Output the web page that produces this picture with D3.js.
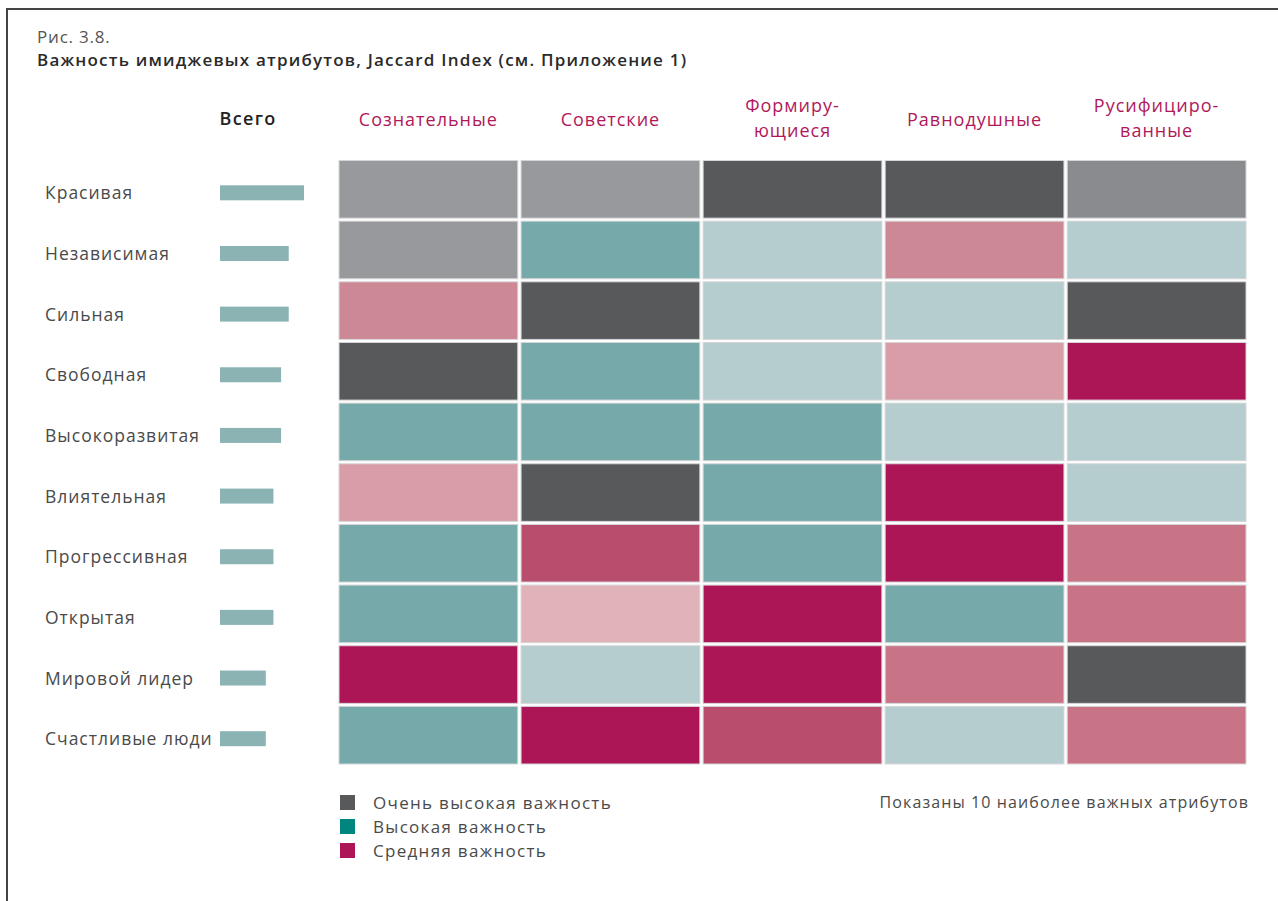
<!DOCTYPE html>
<html><head><meta charset="utf-8">
<script src="https://cdn.jsdelivr.net/npm/d3@7/dist/d3.min.js"></script>
<style>
html,body{margin:0;padding:0;background:#fff;}
text{font-family:"Open Sans",sans-serif;}
</style></head>
<body><svg id="chart" width="1278" height="901"></svg>
<script>
// ---- data ----
const attributes = ["Красивая","Независимая","Сильная","Свободная","Высокоразвитая","Влиятельная","Прогрессивная","Открытая","Мировой лидер","Счастливые люди"];
const totalValues = [0.55,0.45,0.45,0.40,0.40,0.35,0.35,0.35,0.30,0.30];
const segments = [["Сознательные"],["Советские"],["Формиру-","ющиеся"],["Равнодушные"],["Русифициро-","ванные"]];
// importance shade codes per segment column (VH = very high, H = high, M = medium; suffix = lighter shade)
const soznatelnye = ["VH2","VH2","M4","VH","H","M5","H","H","M","H"];
const sovetskie   = ["VH2","H","VH","H","H","VH","M2","M6","H2","M"];
const formiruyushchiesya = ["VH","H2","H2","H2","H","H","H","M","M","M2"];
const ravnodushnye = ["VH","M4","H2","M5","H2","M","M","H","M3","H2"];
const rusificirovannye = ["VH3","H2","VH","M","H2","H2","M3","M3","VH","M3"];
const matrixColumns = [soznatelnye,sovetskie,formiruyushchiesya,ravnodushnye,rusificirovannye];
const shadeCodes  = ["VH","VH2","VH3","H","H2","M","M2","M3","M4","M5","M6"];
const shadeColors = ["#58595b","#98999d","#8a8b8e","#76a9a9","#b5cdcf","#ad1656","#b84d6d","#c87386","#cd8895","#d99da8","#e0b2b9"];
const legendLabels = ["Очень высокая важность","Высокая важность","Средняя важность"];
const legendColors = ["#58595b","#00857f","#ad1656"];

const svg = d3.select("#chart");
const dark = "#4a4a4a", magenta = "#b0185a";

// frame
svg.append("path").attr("d","M7,901 V9 H1278").attr("fill","none").attr("stroke","#444").attr("stroke-width",2);

// titles
svg.append("text").attr("x",37).attr("y",43).attr("font-size",17).attr("font-weight",400).attr("letter-spacing",0.8).attr("fill","#555").text("Рис. 3.8.");
svg.append("text").attr("x",37).attr("y",66).attr("font-size",17).attr("font-weight",600).attr("letter-spacing",1.2).attr("fill","#2a2a2a")
  .text("Важность имиджевых атрибутов, Jaccard Index (см. Приложение 1)");

// scales
const x = d3.scaleBand().domain(d3.range(segments.length)).range([339,1246]).paddingInner(0.018).paddingOuter(0);
const y = d3.scaleBand().domain(attributes).range([160.5,764]).paddingInner(0.05).paddingOuter(0);
const color = d3.scaleOrdinal().domain(shadeCodes).range(shadeColors);
const barX = d3.scaleLinear().domain([0,0.55]).range([220,304]);

// column headers
svg.append("text").attr("x",248).attr("y",125).attr("text-anchor","middle").attr("font-size",18).attr("font-weight",600).attr("letter-spacing",1.3).attr("fill","#222").text("Всего");
segments.forEach((lines,i)=>{
  const cx = x(i)+x.bandwidth()/2;
  const t = svg.append("text").attr("x",cx).attr("text-anchor","middle").attr("font-size",18).attr("font-weight",500).attr("letter-spacing",1).attr("fill",magenta);
  if(lines.length===1){ t.attr("y",126).text(lines[0]); }
  else {
    lines.forEach((l,k)=>t.append("tspan").attr("x",cx).attr("y",112+k*25).text(l));
  }
});

// row labels & total bars
attributes.forEach((a,r)=>{
  const cy = y(a)+y.bandwidth()/2;
  svg.append("text").attr("x",45).attr("y",cy+10).attr("font-size",17.5).attr("letter-spacing",1).attr("fill",dark).text(a);
  svg.append("rect").attr("x",barX(0)).attr("y",cy-4).attr("width",barX(totalValues[r])-barX(0)).attr("height",15).attr("fill","#8bb3b4");
});

// heatmap cells
matrixColumns.forEach((col,c)=>{
  svg.append("g").selectAll("rect").data(col).join("rect")
    .attr("x",x(c)).attr("y",(d,r)=>y(attributes[r]))
    .attr("width",x.bandwidth()).attr("height",y.bandwidth())
    .attr("fill",d=>color(d)).attr("stroke","#d6d6d8").attr("stroke-width",1);
});

// legend
legendLabels.forEach((l,i)=>{
  svg.append("rect").attr("x",340).attr("y",795+i*24).attr("width",15).attr("height",15).attr("fill",legendColors[i]);
  svg.append("text").attr("x",373).attr("y",809+i*24).attr("font-size",17).attr("letter-spacing",1.3).attr("fill",dark).text(l);
});
svg.append("text").attr("x",1249).attr("y",808).attr("text-anchor","end").attr("font-size",16).attr("letter-spacing",1.1).attr("fill",dark).text("Показаны 10 наиболее важных атрибутов");
</script></body></html>
